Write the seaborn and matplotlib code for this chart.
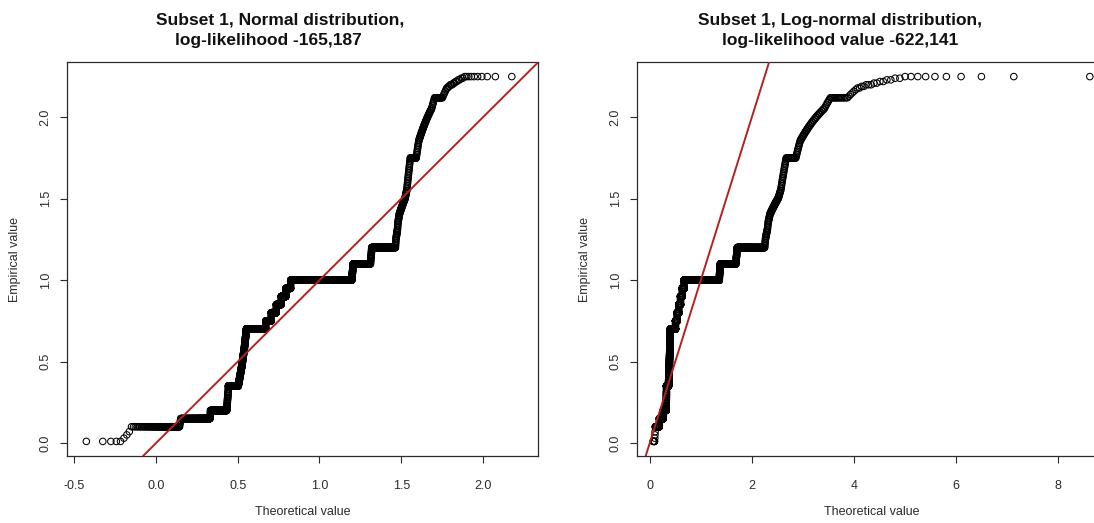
import math
from statistics import NormalDist

import numpy as np
import pandas as pd
import matplotlib
matplotlib.use("Agg")
import matplotlib.pyplot as plt
import seaborn as sns

# Subset 1: distinct observed values and how many times each occurs,
# split into the low, middle and high part of the range
low_values = [0.01, 0.03, 0.05, 0.07,
              0.10, 0.11, 0.12, 0.13, 0.14, 0.15, 0.16, 0.17, 0.18, 0.19,
              0.20, 0.21, 0.22, 0.23, 0.24, 0.25, 0.26, 0.27, 0.28, 0.29,
              0.30, 0.31, 0.32, 0.33, 0.34, 0.35]
low_counts = [5, 1, 1, 1,
              84, 1, 1, 1, 1, 203, 1, 1, 1, 1,
              212, 2, 2, 2, 2, 2, 2, 2, 2, 2,
              2, 2, 1, 1, 1, 180]

mid_values = [0.36, 0.37, 0.38, 0.39, 0.40, 0.41, 0.42, 0.43, 0.44, 0.45,
              0.46, 0.47, 0.48, 0.49, 0.50, 0.51, 0.52, 0.53, 0.54, 0.55,
              0.56, 0.57, 0.58, 0.59, 0.60, 0.61, 0.62, 0.63, 0.64, 0.65,
              0.66, 0.67, 0.68, 0.69, 0.70, 0.71, 0.72, 0.73, 0.74, 0.75,
              0.76, 0.77, 0.78, 0.79, 0.80, 0.81, 0.82, 0.83, 0.84, 0.85,
              0.86, 0.87, 0.88, 0.89, 0.90, 0.91, 0.92, 0.93, 0.94, 0.95,
              0.96, 0.97, 0.98, 0.99, 1.00, 1.01, 1.02, 1.03, 1.04, 1.05,
              1.06, 1.07, 1.08, 1.09, 1.10, 1.11, 1.12, 1.13, 1.14, 1.15,
              1.16, 1.17, 1.18, 1.19, 1.20]
mid_counts = ([7] + [6] * 11 + [5] * 11 + [4] * 11
              + [509] + [1] * 4 + [157] + [1] * 4 + [157] + [1] * 4 + [157]
              + [1] * 4 + [157] + [1] * 4 + [157] + [1] * 4
              + [1899] + [3, 3, 3, 4, 4, 4, 3, 3, 3]
              + [331] + [2, 2, 2, 3, 3, 2, 2, 2, 2]
              + [280])

high_values = [1.21, 1.22, 1.23, 1.24, 1.25, 1.26, 1.27, 1.28, 1.29, 1.30,
               1.31, 1.32, 1.33, 1.34, 1.35, 1.36, 1.37, 1.38, 1.39, 1.40,
               1.41, 1.42, 1.43, 1.44, 1.45, 1.46, 1.47, 1.48, 1.49, 1.50,
               1.51, 1.52, 1.53, 1.54, 1.55, 1.56, 1.57, 1.58, 1.59, 1.60,
               1.61, 1.62, 1.63, 1.64, 1.65, 1.66, 1.67, 1.68, 1.69, 1.70,
               1.71, 1.72, 1.73, 1.74, 1.75, 1.76, 1.77, 1.78, 1.79, 1.80,
               1.81, 1.82, 1.83, 1.84, 1.85, 1.86, 1.87, 1.88, 1.89, 1.90,
               1.91, 1.92, 1.93, 1.94, 1.95, 1.96, 1.97, 1.98, 1.99, 2.00,
               2.01, 2.02, 2.03, 2.04, 2.05, 2.06, 2.07, 2.08, 2.09, 2.10,
               2.11, 2.12, 2.13, 2.14, 2.15, 2.16, 2.17, 2.18, 2.19, 2.20,
               2.21, 2.22, 2.23, 2.24, 2.25]
high_counts = ([1] * 5 + [2] * 6 + [1] * 4 + [2] * 5 + [4] * 10 + [2] * 5
               + [1] * 19 + [29] + [1] * 10 + [2] * 20 + [1] * 6 + [15]
               + [1] * 5 + [2] * 2 + [3] + [2] * 4 + [10])

# Fitted distribution parameters
norm_mean, norm_sd = 0.875, 0.35
lnorm_meanlog, lnorm_sdlog = -0.30, 0.66

# Axis ticks and labels
norm_xticks = [-0.5, 0.0, 0.5, 1.0, 1.5, 2.0]
norm_xticklabels = ["-0.5", "0.0", "0.5", "1.0", "1.5", "2.0"]
lnorm_xticks = [0, 2, 4, 6, 8]
lnorm_xticklabels = ["0", "2", "4", "6", "8"]
yticks = [0.0, 0.5, 1.0, 1.5, 2.0]
yticklabels = ["0.0", "0.5", "1.0", "1.5", "2.0"]

norm_title = ["Subset 1, Normal distribution,", "log-likelihood -165,187"]
lnorm_title = ["Subset 1, Log-normal distribution,", "log-likelihood value -622,141"]
x_label = "Theoretical value"
y_label = "Empirical value"

# Q-Q data: sorted sample against theoretical quantiles at ppoints(n)
emp_values = low_values + mid_values + high_values
emp_counts = low_counts + mid_counts + high_counts
empirical = np.repeat(emp_values, emp_counts)
n = len(empirical)
probs = (np.arange(1, n + 1) - 0.5) / n
nd = NormalDist(norm_mean, norm_sd)
ld = NormalDist(lnorm_meanlog, lnorm_sdlog)
qq = pd.DataFrame({
    "empirical": empirical,
    "normal": [nd.inv_cdf(p) for p in probs],
    "lognormal": [math.exp(ld.inv_cdf(p)) for p in probs],
})

sns.set_theme(style="ticks")
plt.rcParams["font.family"] = ["Liberation Sans", "DejaVu Sans"]

W, H = 1094, 523
fig = plt.figure(figsize=(W / 100, H / 100), dpi=100)
fig.patch.set_facecolor("white")


def px_axes(x0, x1, y0, y1):
    return fig.add_axes([x0 / W, 1 - y1 / H, (x1 - x0) / W, (y1 - y0) / H])


INK = "#2b2b2b"


def draw_panel(ax, col, xlim, xticks, xticklabels, title, title_cx, xlab_cx, ylab_cx):
    sns.scatterplot(data=qq, x=col, y="empirical", ax=ax, marker="o", s=22,
                    facecolors="none", edgecolor="black", linewidth=0.75,
                    legend=False, zorder=2)
    ax.axline((0, 0), slope=1, color="#b22222", lw=1.4, zorder=3)
    ax.set_xlim(*xlim)
    ax.set_ylim(-0.0796, 2.3396)
    ax.set_xticks(xticks)
    ax.set_xticklabels(xticklabels)
    ax.set_yticks(yticks)
    ax.set_yticklabels(yticklabels, rotation=90, va="center")
    ax.tick_params(axis="both", direction="out", length=5, width=0.8,
                   color=INK, labelcolor=INK, labelsize=9,
                   bottom=True, left=True, top=False, right=False)
    ax.tick_params(axis="x", pad=12)
    ax.tick_params(axis="y", pad=6)
    for s in ax.spines.values():
        s.set_visible(True)
        s.set_color(INK)
        s.set_linewidth(0.9)
    ax.set_xlabel("")
    ax.set_ylabel("")
    ax.grid(False)
    fig.text(title_cx[0] / W, 1 - 24.5 / H, title[0], ha="center", va="baseline",
             fontsize=12.5, fontweight="bold", color="#111111")
    fig.text(title_cx[1] / W, 1 - 45.5 / H, title[1], ha="center", va="baseline",
             fontsize=12.5, fontweight="bold", color="#111111")
    fig.text(xlab_cx / W, 1 - 512 / H, x_label, ha="center", va="center",
             fontsize=9, color=INK)
    fig.text(ylab_cx / W, 1 - 259 / H, y_label, ha="center", va="center",
             rotation=90, fontsize=9, color=INK)


ax_norm = px_axes(67, 538, 62, 456)
ax_lnorm = px_axes(637, 1108, 62, 456)

draw_panel(ax_norm, "normal", (-0.545, 2.337), norm_xticks, norm_xticklabels,
           norm_title, (280, 268), 302.5, 15)
draw_panel(ax_lnorm, "lognormal", (-0.25, 8.98), lnorm_xticks, lnorm_xticklabels,
           lnorm_title, (840, 840), 872, 585)

fig.savefig("out.png", dpi=100, facecolor="white")
